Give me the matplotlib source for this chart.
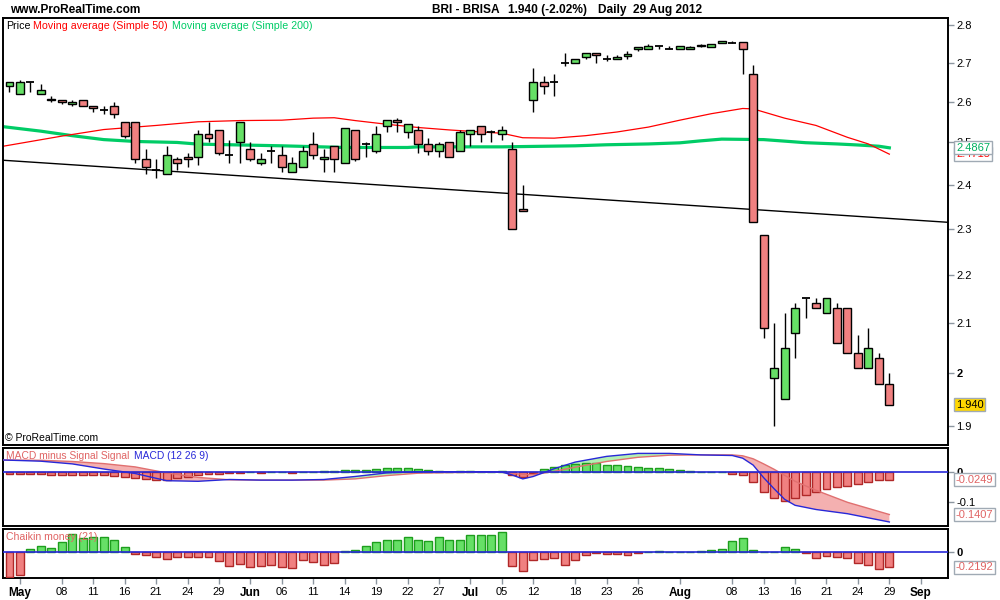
import matplotlib
matplotlib.use("Agg")
import matplotlib.pyplot as plt
import numpy as np

plt.rcParams["font.family"] = ["Liberation Sans", "DejaVu Sans"]

# --- Daily OHLC, BRI - BRISA, 30 Apr .. 29 Aug 2012 (one row per session) ---
opens = [2.64, 2.62, 2.65, 2.62, 2.604, 2.605, 2.595, 2.605, 2.59, 2.58,
         2.59, 2.55, 2.55, 2.46, 2.435, 2.425, 2.46, 2.465, 2.465, 2.52,
         2.53, 2.47, 2.50, 2.485, 2.45, 2.48, 2.47, 2.43, 2.44, 2.495,
         2.46, 2.49, 2.45, 2.53, 2.495, 2.48, 2.54, 2.555, 2.525, 2.53,
         2.495, 2.48, 2.50, 2.48, 2.52, 2.54, 2.525, 2.52, 2.485, 2.345,
         2.605, 2.65, 2.65, 2.70, 2.70, 2.715, 2.725, 2.71, 2.71, 2.718,
         2.735, 2.735, 2.745, 2.735, 2.735, 2.735, 2.744, 2.74, 2.753, 2.752,
         2.755, 2.67, 2.285, 1.99, 1.95, 2.08, 2.15, 2.14, 2.12, 2.13,
         2.13, 2.04, 2.01, 2.03, 1.98]
highs = [2.65, 2.655, 2.65, 2.645, 2.615, 2.605, 2.605, 2.605, 2.59, 2.59,
         2.60, 2.55, 2.55, 2.485, 2.46, 2.49, 2.465, 2.475, 2.53, 2.55,
         2.53, 2.505, 2.55, 2.50, 2.475, 2.49, 2.49, 2.465, 2.49, 2.525,
         2.485, 2.49, 2.535, 2.53, 2.50, 2.54, 2.555, 2.56, 2.545, 2.54,
         2.51, 2.50, 2.50, 2.53, 2.53, 2.54, 2.53, 2.54, 2.50, 2.40,
         2.685, 2.665, 2.67, 2.725, 2.71, 2.725, 2.725, 2.72, 2.72, 2.73,
         2.74, 2.75, 2.745, 2.745, 2.745, 2.745, 2.75, 2.75, 2.756, 2.757,
         2.755, 2.695, 2.285, 2.10, 2.12, 2.14, 2.15, 2.15, 2.15, 2.14,
         2.13, 2.075, 2.09, 2.04, 2.00]
lows = [2.625, 2.62, 2.625, 2.62, 2.60, 2.595, 2.59, 2.59, 2.575, 2.57,
        2.56, 2.51, 2.45, 2.425, 2.415, 2.425, 2.435, 2.44, 2.445, 2.50,
        2.47, 2.45, 2.45, 2.455, 2.445, 2.45, 2.43, 2.43, 2.44, 2.46,
        2.43, 2.43, 2.45, 2.455, 2.465, 2.475, 2.525, 2.525, 2.51, 2.475,
        2.47, 2.465, 2.465, 2.48, 2.49, 2.50, 2.50, 2.505, 2.30, 2.34,
        2.575, 2.62, 2.615, 2.69, 2.70, 2.71, 2.70, 2.705, 2.71, 2.71,
        2.73, 2.735, 2.735, 2.735, 2.735, 2.735, 2.74, 2.74, 2.753, 2.752,
        2.67, 2.315, 2.07, 1.90, 1.95, 2.03, 2.11, 2.13, 2.12, 2.06,
        2.04, 2.01, 2.01, 1.98, 1.94]
closes = [2.65, 2.65, 2.65, 2.63, 2.607, 2.60, 2.60, 2.59, 2.585, 2.58,
          2.57, 2.515, 2.46, 2.44, 2.435, 2.47, 2.45, 2.46, 2.52, 2.51,
          2.475, 2.47, 2.55, 2.46, 2.46, 2.48, 2.44, 2.45, 2.48, 2.47,
          2.465, 2.46, 2.535, 2.46, 2.495, 2.52, 2.555, 2.55, 2.545, 2.495,
          2.48, 2.495, 2.465, 2.525, 2.53, 2.52, 2.525, 2.53, 2.30, 2.34,
          2.65, 2.64, 2.65, 2.70, 2.71, 2.725, 2.72, 2.71, 2.715, 2.722,
          2.74, 2.745, 2.745, 2.735, 2.745, 2.74, 2.747, 2.75, 2.756, 2.752,
          2.735, 2.315, 2.09, 2.01, 2.05, 2.13, 2.15, 2.13, 2.15, 2.06,
          2.04, 2.01, 2.05, 1.98, 1.94]

# moving averages, read at selected sessions
ma50_idx = [-0.6, 5, 9, 14, 18, 22, 26, 29, 31, 33, 36, 39, 42, 45, 47, 49, 52,
            55, 58, 61, 64, 67, 70, 71, 74, 77, 80, 82, 84]
ma50_val = [2.4905, 2.515, 2.531, 2.541, 2.550, 2.553, 2.554, 2.559, 2.560,
            2.553, 2.544, 2.536, 2.530, 2.525, 2.522, 2.511, 2.510, 2.516,
            2.525, 2.537, 2.554, 2.570, 2.583, 2.582, 2.559, 2.541, 2.512,
            2.496, 2.4715]
ma200_idx = [-0.6, 3, 6, 9, 12, 16, 18, 26, 32, 38, 39, 47, 54, 57, 61, 64, 66,
             68, 72, 74, 76, 79, 81, 83, 84]
ma200_val = [2.538, 2.527, 2.516, 2.5065, 2.502, 2.4996, 2.4956, 2.4915,
             2.4875, 2.4875, 2.489, 2.489, 2.4915, 2.494, 2.496, 2.4987,
             2.5035, 2.5077, 2.5065, 2.5028, 2.499, 2.496, 2.4935, 2.4905,
             2.4867]
trend_idx = [-0.62, 89.6]
trend_val = [2.457, 2.314]

# MACD (12 26 9)
macd_idx = [-0.6, 3, 6, 9, 12, 15, 18, 21, 24, 27, 30, 33, 36, 39, 42, 45, 47,
            48, 49, 50, 52, 54, 57, 60, 63, 66, 69, 70, 71, 72, 73, 74, 75,
            77, 80, 84]
macd_line = [0.041, 0.037, 0.028, 0.011, -0.004, -0.028, -0.030, -0.024,
             -0.026, -0.026, -0.024, -0.014, -0.002, 0.002, 0.002, 0.002,
             0.001, -0.009, -0.022, -0.014, 0.012, 0.034, 0.053, 0.063,
             0.063, 0.058, 0.056, 0.047, 0.024, -0.018, -0.055, -0.090,
             -0.110, -0.124, -0.138, -0.1656]
signal_line = [0.041, 0.040, 0.036, 0.029, 0.018, -0.002, -0.017, -0.025,
               -0.026, -0.026, -0.026, -0.022, -0.011, -0.003, -0.001, 0.0,
               0.0, -0.003, -0.007, -0.008, 0.003, 0.017, 0.036, 0.050,
               0.057, 0.058, 0.058, 0.055, 0.045, 0.028, 0.010, -0.010,
               -0.030, -0.060, -0.100, -0.1407]
macd_hist = [-0.004, -0.004, -0.004, -0.004, -0.008, -0.010, -0.010, -0.010,
             -0.010, -0.010, -0.013, -0.017, -0.020, -0.023, -0.027, -0.027,
             -0.020, -0.014, -0.010, -0.007, -0.007, -0.003, -0.001, 0.0,
             -0.001, 0.0, 0.0, -0.002, 0.0, 0.0, 0.003, 0.003, 0.007, 0.007,
             0.007, 0.010, 0.013, 0.013, 0.013, 0.010, 0.007, 0.003, 0.001,
             0.003, 0.003, 0.002, 0.002, 0.003, -0.010, -0.017, -0.003,
             0.010, 0.017, 0.023, 0.027, 0.030, 0.030, 0.023, 0.023, 0.020,
             0.017, 0.013, 0.013, 0.010, 0.007, 0.003, 0.001, 0.0, 0.0,
             -0.004, -0.008, -0.033, -0.067, -0.087, -0.094, -0.087, -0.077,
             -0.067, -0.057, -0.050, -0.047, -0.040, -0.031, -0.027, -0.0249]

# Chaikin money flow (21)
chaikin = [-0.365, -0.336, 0.049, 0.088, 0.063, 0.146, 0.263, 0.205, 0.229,
           0.219, 0.180, 0.073, -0.029, -0.044, -0.063, -0.102, -0.063,
           -0.073, -0.063, -0.073, -0.122, -0.205, -0.175, -0.219, -0.205,
           -0.190, -0.219, -0.234, -0.117, -0.146, -0.190, -0.161, 0.019,
           0.034, 0.088, 0.146, 0.180, 0.180, 0.219, 0.180, 0.161, 0.219,
           0.180, 0.180, 0.248, 0.248, 0.248, 0.292, -0.205, -0.278, -0.117,
           -0.102, -0.088, -0.190, -0.117, -0.044, -0.015, -0.029, -0.029,
           -0.044, -0.015, 0.0, 0.019, 0.0, 0.0, 0.0, 0.019, 0.034, 0.049,
           0.161, 0.205, 0.034, 0.0, 0.0, 0.083, 0.049, -0.015, -0.088,
           -0.058, -0.073, -0.088, -0.161, -0.190, -0.248, -0.2192]

tick_idx = [1, 5, 8, 11, 14, 17, 20, 23, 26, 29, 32, 35, 38, 41, 44, 47, 50,
            54, 57, 60, 64, 69, 72, 75, 78, 81, 84, 87]
tick_lbl = ["May", "08", "11", "16", "21", "24", "29", "Jun", "06", "11", "14",
            "19", "22", "27", "Jul", "05", "12", "18", "23", "26", "Aug", "08",
            "13", "16", "21", "24", "29", "Sep"]
month_lbl = {"May", "Jun", "Jul", "Aug", "Sep"}

GREEN, GREEN_EDGE = "#66E066", "#1E9E1E"
RED, RED_EDGE = "#F08080", "#B02828"
SALMON = "#E06464"
BOX_EDGE = "#A0AAB4"
W = 0.76
XLIM = (-0.62, 89.6)

fig = plt.figure(figsize=(10, 6), dpi=100)
L, WID = 0.003, 0.945
ax = fig.add_axes([L, 1 - 445 / 600, WID, 427 / 600])
ax_m = fig.add_axes([L, 1 - 526 / 600, WID, 78 / 600])
ax_c = fig.add_axes([L, 1 - 578.3 / 600, WID, 49 / 600])

for a in (ax, ax_m, ax_c):
    a.set_xlim(*XLIM)
    for s in a.spines.values():
        s.set_linewidth(1.4)
        s.set_color("black")
    a.yaxis.tick_right()
    a.tick_params(axis="y", direction="out", length=4, width=1,
                  color="#8C96A0", labelsize=8, pad=2)
    a.set_xticks([])

# --- price panel ---------------------------------------------------------
idx = np.arange(len(opens))
o, h, lo, c = (np.array(v) for v in (opens, highs, lows, closes))
ax.set_yscale("log")
ax.vlines(idx, lo, h, color="black", lw=1, zorder=3)
for i in idx:
    if o[i] == c[i]:
        ax.hlines(o[i], i - W / 2, i + W / 2, color="black", lw=1.3, zorder=4)
    else:
        up = c[i] > o[i]
        ax.bar(i, abs(c[i] - o[i]), bottom=min(o[i], c[i]), width=W,
               color=GREEN if up else RED, edgecolor="black", lw=1, zorder=4)
ax.plot(trend_idx, trend_val, color="black", lw=1, zorder=2)
ax.plot(ma200_idx, ma200_val, color="#00CC66", lw=2.3, zorder=2)
ax.plot(ma50_idx, ma50_val, color="#FF0000", lw=0.9, zorder=2)
ax.set_ylim(1.866, 2.819)
ax.minorticks_off()
pticks = [1.9, 2.0, 2.1, 2.2, 2.3, 2.4, 2.5, 2.6, 2.7, 2.8]
ax.set_yticks(pticks)
ax.set_yticklabels(["1.9", "2", "2.1", "2.2", "2.3", "2.4", "2.5", "2.6",
                    "2.7", "2.8"])
ax.minorticks_off()
for t in ax.get_yticklabels():
    if t.get_text() == "2":
        t.set_fontweight("bold")


def value_box(a, val, txt, color, face="white"):
    a.annotate(txt, xy=(1, val), xycoords=("axes fraction", "data"),
               xytext=(8, 0), textcoords="offset pixels", va="center",
               ha="left", fontsize=8, color=color, zorder=10,
               annotation_clip=False,
               bbox=dict(boxstyle="square,pad=0.15", fc=face, ec=BOX_EDGE,
                         lw=1))


value_box(ax, ma50_val[-1], f"{ma50_val[-1]:.4f}", "#FF0000")
value_box(ax, ma200_val[-1], f"{ma200_val[-1]:.4f}", "#00B060")
value_box(ax, closes[-1], f"{closes[-1]:.3f}", "black", face="#FFD700")

# --- MACD panel ----------------------------------------------------------
mh = np.array(macd_hist)
ax_m.bar(idx, mh, width=W, color=[GREEN if v >= 0 else RED for v in mh],
         edgecolor=[GREEN_EDGE if v >= 0 else RED_EDGE for v in mh], lw=1,
         zorder=3)
mi, ml, sl = np.array(macd_idx), np.array(macd_line), np.array(signal_line)
ax_m.fill_between(mi, ml, sl, where=ml < sl, color="#F4B0B0",
                  interpolate=True, lw=0, zorder=2)
ax_m.fill_between(mi, ml, sl, where=ml >= sl, color="#B4F0B4",
                  interpolate=True, lw=0, zorder=2)
ax_m.plot(mi, sl, color="#E07070", lw=1, zorder=4)
ax_m.plot(mi, ml, color="#2828D8", lw=1, zorder=4)
ax_m.axhline(0, color="#2828D8", lw=1.2, zorder=5)
ax_m.set_ylim(-0.179, 0.081)
ax_m.set_yticks([-0.1, 0])
ax_m.set_yticklabels(["-0.1", "0"])
ax_m.get_yticklabels()[1].set_fontweight("bold")
value_box(ax_m, macd_hist[-1], f"{macd_hist[-1]:.4f}", SALMON)
value_box(ax_m, signal_line[-1], f"{signal_line[-1]:.4f}", SALMON)

# --- Chaikin panel -------------------------------------------------------
ch = np.array(chaikin)
ax_c.bar(idx, ch, width=W, color=[GREEN if v >= 0 else RED for v in ch],
         edgecolor=[GREEN_EDGE if v >= 0 else RED_EDGE for v in ch], lw=1,
         zorder=3)
ax_c.axhline(0, color="#2828D8", lw=1.2, zorder=5)
ax_c.set_ylim(-0.380, 0.336)
ax_c.set_yticks([0])
ax_c.set_yticklabels(["0"], fontweight="bold")
value_box(ax_c, chaikin[-1], f"{chaikin[-1]:.4f}", SALMON)

ax_c.set_xticks(tick_idx)
ax_c.set_xticklabels(tick_lbl)
ax_c.tick_params(axis="x", direction="out", length=4, width=1,
                 color="#8C96A0", labelsize=8, pad=2)
for t in ax_c.get_xticklabels():
    if t.get_text() in month_lbl:
        t.set_fontweight("bold")
        t.set_fontsize(8.5)


# --- texts ---------------------------------------------------------------
def ftext(px, py, s, **kw):
    fig.text(px / 1000, 1 - py / 600, s, va="center", ha="left", **kw)


ftext(10, 10, "www.ProRealTime.com", fontsize=8.6, fontweight="bold")
ftext(432, 10, "BRI - BRISA", fontsize=8.6, fontweight="bold")
ftext(508, 10, "1.940 (-2.02%)", fontsize=8.6, fontweight="bold")
ftext(598, 10, "Daily  29 Aug 2012", fontsize=8.6, fontweight="bold")
ftext(6, 26, "Price", fontsize=7.7, color="black")
ftext(33, 26, "Moving average (Simple 50)", fontsize=7.7, color="#FF0000")
ftext(172, 26, "Moving average (Simple 200)", fontsize=7.7, color="#00CC66")
ftext(5, 438, "\u00a9 ProRealTime.com", fontsize=7.5)
ftext(6, 456, "MACD minus Signal Signal", fontsize=7.4, color=SALMON)
ftext(134, 456, "MACD (12 26 9)", fontsize=7.4, color="#2828D8")
ftext(6, 537, "Chaikin money (21)", fontsize=7.6, color=SALMON)

fig.savefig("out.png", dpi=100)
